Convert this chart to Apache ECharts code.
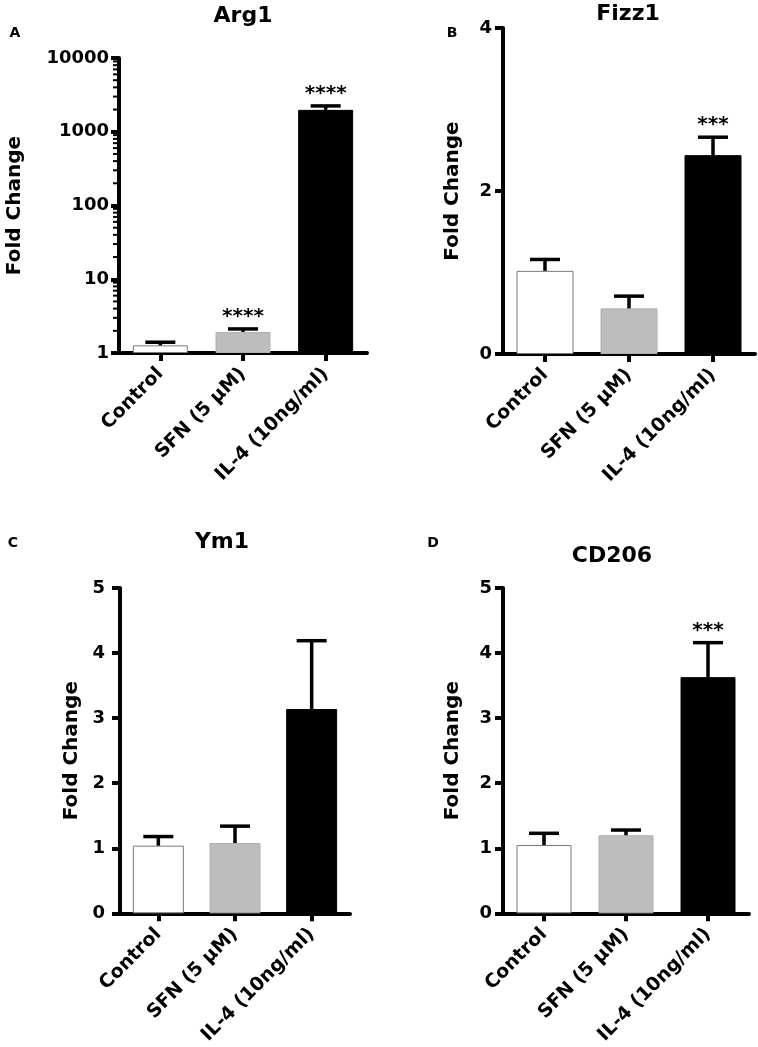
<!DOCTYPE html>
<html>
<head>
<meta charset="utf-8">
<script src="https://cdn.jsdelivr.net/npm/echarts@6/dist/echarts.min.js"></script>
<style>
html,body{margin:0;padding:0;background:#fff;}
#c{width:758px;height:1047px;}
</style>
</head>
<body>
<div id="c"></div>
<script>
const categories = ['Control', 'SFN (5 \u00b5M)', 'IL-4 (10ng/ml)'];

const arg1Mean  = [1.27, 1.93, 1980];
const arg1Upper = [1.40, 2.12, 2240];
const arg1Stars = ['', '****', '****'];
const arg1MinorTicks = [2,3,4,5,6,7,8,9,20,30,40,50,60,70,80,90,200,300,400,500,600,700,800,900,2000,3000,4000,5000,6000,7000,8000,9000];

const fizz1Mean  = [1.02, 0.56, 2.44];
const fizz1Upper = [1.16, 0.71, 2.66];
const fizz1Stars = ['', '', '***'];

const ym1Mean  = [1.04, 1.08, 3.14];
const ym1Upper = [1.18, 1.34, 4.19];
const ym1Stars = ['', '', ''];

const cd206Mean  = [1.05, 1.20, 3.63];
const cd206Upper = [1.23, 1.28, 4.16];
const cd206Stars = ['', '', '***'];

const titles = ['Arg1', 'Fizz1', 'Ym1', 'CD206'];
const panelLetters = ['A', 'B', 'C', 'D'];
const yName = 'Fold Change';

const FONT = '"DejaVu Sans", "Liberation Sans", Arial, sans-serif';
const barColors = [
  {color: '#ffffff', borderColor: '#7a7a7a', borderWidth: 1},
  {color: '#bdbdbd', borderColor: '#b0b0b0', borderWidth: 1},
  {color: '#000000', borderColor: '#000000', borderWidth: 1}
];

const panels = [
  {mean: arg1Mean, upper: arg1Upper, stars: arg1Stars, grid: {left: 119, top: 58, width: 248, height: 295}, y: {type: 'log', min: 1, max: 10000, logBase: 10}, nameGap: 94, labelMargin: 10, barWidth: 55},
  {mean: fizz1Mean, upper: fizz1Upper, stars: fizz1Stars, grid: {left: 503, top: 28, width: 252, height: 326}, y: {type: 'value', min: 0, max: 4, interval: 2}, nameGap: 40, labelMargin: 11, barWidth: 57},
  {mean: ym1Mean, upper: ym1Upper, stars: ym1Stars, grid: {left: 120, top: 588, width: 230, height: 326}, y: {type: 'value', min: 0, max: 5, interval: 1}, nameGap: 38, labelMargin: 15, barWidth: 51},
  {mean: cd206Mean, upper: cd206Upper, stars: cd206Stars, grid: {left: 503, top: 588, width: 246, height: 326}, y: {type: 'value', min: 0, max: 5, interval: 1}, nameGap: 40, labelMargin: 11, barWidth: 55}
];

const axisLine = {show: true, lineStyle: {color: '#000', width: 4}};
const grids = [], xAxes = [], yAxes = [], series = [];

panels.forEach((p, i) => {
  grids.push(Object.assign({containLabel: false}, p.grid));
  xAxes.push({
    type: 'category', gridIndex: i, data: categories,
    axisLine: axisLine,
    axisTick: {show: true, alignWithLabel: true, length: 8, lineStyle: {color: '#000', width: 4}},
    axisLabel: {rotate: 45, margin: 18, color: '#000', fontFamily: FONT, fontWeight: 'bold', fontSize: 19, interval: 0},
    splitLine: {show: false}
  });
  yAxes.push(Object.assign({
    gridIndex: i,
    name: yName, nameLocation: 'middle', nameRotate: 90, nameGap: p.nameGap,
    nameTextStyle: {color: '#000', fontFamily: FONT, fontWeight: 'bold', fontSize: 20},
    axisLine: axisLine,
    axisTick: {show: true, length: 8, lineStyle: {color: '#000', width: 4}},
    axisLabel: {margin: p.labelMargin, color: '#000', fontFamily: FONT, fontWeight: 'bold', fontSize: 18, formatter: v => String(v)},
    splitLine: {show: false}, minorTick: {show: false}
  }, p.y));

  series.push({
    type: 'bar', xAxisIndex: i, yAxisIndex: i, barWidth: p.barWidth,
    data: p.mean.map((v, k) => ({value: v, itemStyle: barColors[k]})),
    z: 2, silent: true
  });

  series.push({
    type: 'custom', xAxisIndex: i, yAxisIndex: i, z: 3, clip: false, silent: true,
    data: p.mean.map((v, k) => [k, p.upper[k], v]),
    renderItem: function (params, api) {
      const k = api.value(0);
      const top = api.coord([k, api.value(1)]);
      const base = api.coord([k, api.value(2)]);
      const children = [
        {type: 'line', shape: {x1: top[0], y1: base[1], x2: top[0], y2: top[1]}, style: {stroke: '#000', lineWidth: 3.5}},
        {type: 'line', shape: {x1: top[0] - 15, y1: top[1], x2: top[0] + 15, y2: top[1]}, style: {stroke: '#000', lineWidth: 3.5}}
      ];
      const s = p.stars[params.dataIndex];
      if (s) {
        children.push({type: 'text', style: {text: s, x: top[0], y: top[1] - 2, textAlign: 'center', textVerticalAlign: 'bottom', fill: '#000', font: 'bold 20px ' + FONT}});
      }
      return {type: 'group', children: children};
    }
  });
});

// minor ticks for the log axis of panel A
series.push({
  type: 'custom', xAxisIndex: 0, yAxisIndex: 0, z: 4, clip: false, silent: true,
  data: arg1MinorTicks.map(v => [0, v]),
  renderItem: function (params, api) {
    const pt = api.coord([0, api.value(1)]);
    const x0 = params.coordSys.x;
    return {type: 'line', shape: {x1: x0 - 6, y1: pt[1], x2: x0, y2: pt[1]}, style: {stroke: '#000', lineWidth: 2}};
  }
});

const titlePos = [[243, 16], [628, 14], [222, 542], [612, 556]];
const letterPos = [[15, 33], [452, 33], [13, 543], [433, 543]];
const graphics = [];
titles.forEach((t, i) => {
  graphics.push({type: 'text', x: titlePos[i][0], y: titlePos[i][1], style: {text: t, textAlign: 'center', textVerticalAlign: 'middle', fill: '#000', font: 'bold 22px ' + FONT}});
  graphics.push({type: 'text', x: letterPos[i][0], y: letterPos[i][1], style: {text: panelLetters[i], textAlign: 'center', textVerticalAlign: 'middle', fill: '#000', font: 'bold 14px ' + FONT}});
});

const chart = echarts.init(document.getElementById('c'), null, {renderer: 'canvas'});
chart.setOption({
  animation: false,
  backgroundColor: '#fff',
  grid: grids, xAxis: xAxes, yAxis: yAxes, series: series,
  graphic: graphics
});
</script>
</body>
</html>
